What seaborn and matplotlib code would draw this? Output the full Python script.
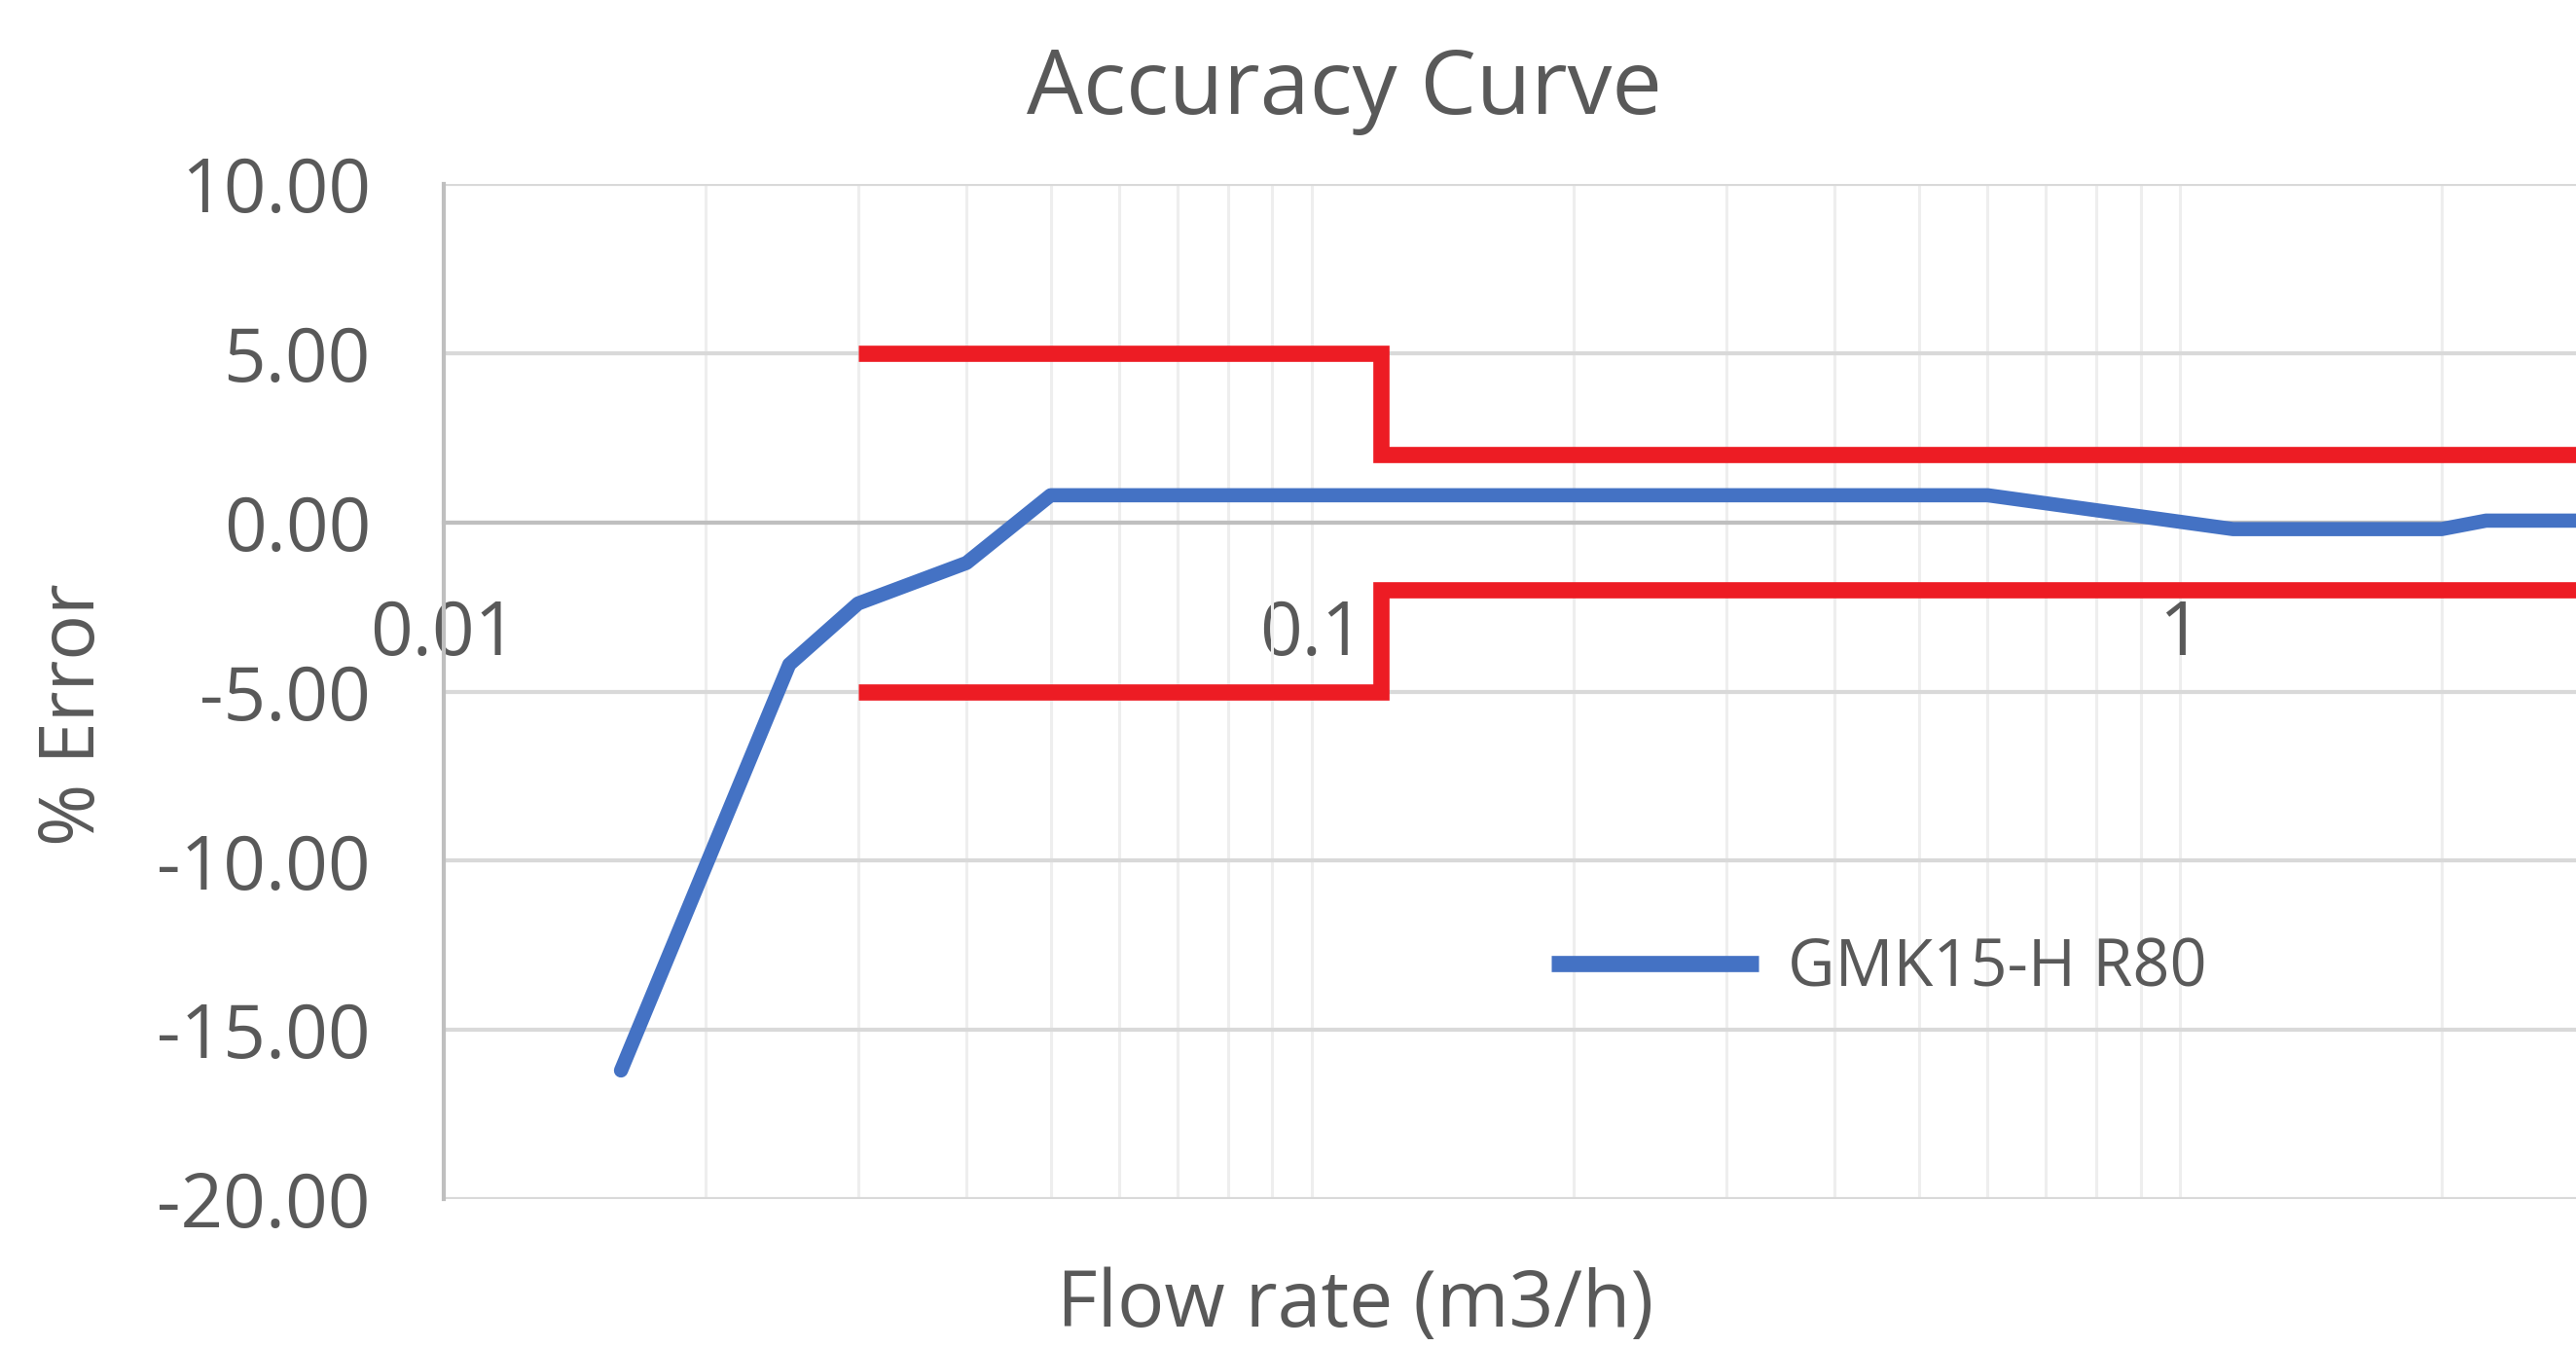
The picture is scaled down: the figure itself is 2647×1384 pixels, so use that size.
import matplotlib
matplotlib.use("Agg")
import matplotlib.pyplot as plt
import seaborn as sns
import pandas as pd
import numpy as np
from matplotlib.ticker import FixedLocator, NullFormatter, FixedFormatter

# ---- data ----
flow = [0.016, 0.025, 0.030, 0.040, 0.050, 0.10, 0.60, 1.15, 2.0, 2.25, 3.5]
error = [-16.2, -4.2, -2.4, -1.2, 0.8, 0.8, 0.8, -0.2, -0.2, 0.05, 0.05]
series_name = "GMK15-H R80"

upper_x = [0.03, 0.12, 0.12, 3.5]
upper_y = [5, 5, 2, 2]
lower_x = [0.03, 0.12, 0.12, 3.5]
lower_y = [-5, -5, -2, -2]

x_ticks = [0.01, 0.1, 1]
x_tick_labels = ["0.01", "0.1", "1"]
y_ticks = [10, 5, 0, -5, -10, -15, -20]
y_tick_labels = ["10.00", "5.00", "0.00", "-5.00", "-10.00", "-15.00", "-20.00"]

title = "Accuracy Curve"
xlabel = "Flow rate (m3/h)"
ylabel = "% Error"

# ---- style ----
sns.set_style("white")
plt.rcParams['font.family'] = ['Open Sans', 'DejaVu Sans']
TXT = "#595959"
BLUE = "#4472C4"
RED = "#ED1C24"

W, H, DPI = 2647, 1384, 100
fig = plt.figure(figsize=(W / DPI, H / DPI), dpi=DPI)
ax = fig.add_axes([456 / W, 1 - 1232 / H, 1 - 456 / W, (1232 - 189) / H])

df = pd.DataFrame({"flow": flow, "error": error, "series": series_name})
df_up = pd.DataFrame({"flow": upper_x, "error": upper_y})
df_lo = pd.DataFrame({"flow": lower_x, "error": lower_y})

sns.lineplot(data=df_up, x="flow", y="error", estimator=None, sort=False,
             color=RED, linewidth=12, ax=ax, legend=False, zorder=3,
             solid_joinstyle="miter", solid_capstyle="butt")
sns.lineplot(data=df_lo, x="flow", y="error", estimator=None, sort=False,
             color=RED, linewidth=12, ax=ax, legend=False, zorder=3,
             solid_joinstyle="miter", solid_capstyle="butt")
sns.lineplot(data=df, x="flow", y="error", hue="series", palette=[BLUE],
             estimator=None, sort=False, linewidth=10.5, ax=ax, zorder=4)

ax.set_xscale("log")
ax.set_xlim(0.01, 10 ** ((2647 - 2240) / 893))
ax.set_ylim(-20, 10)

# grid lines
minor_x = [m * 10.0 ** e for e in (-2, -1, 0) for m in range(1, 10)]
ax.xaxis.set_major_locator(FixedLocator(x_ticks))
ax.xaxis.set_major_formatter(FixedFormatter(x_tick_labels))
ax.xaxis.set_minor_locator(FixedLocator(minor_x))
ax.xaxis.set_minor_formatter(NullFormatter())
ax.yaxis.set_major_locator(FixedLocator(y_ticks))
ax.yaxis.set_major_formatter(FixedFormatter(y_tick_labels))

ax.grid(False)
ax.grid(True, which="minor", axis="x", color="#eeeeee", linewidth=2.2, zorder=0)
ax.grid(True, which="major", axis="x", color="#eeeeee", linewidth=2.2, zorder=0)
ax.grid(True, which="major", axis="y", color="#d9d9d9", linewidth=3, zorder=1)

for s in ("top", "right"):
    ax.spines[s].set_visible(False)
ax.spines["left"].set_color("#bfbfbf")
ax.spines["left"].set_linewidth(3)
ax.spines["bottom"].set_position(("data", 0))
ax.spines["bottom"].set_color("#bfbfbf")
ax.spines["bottom"].set_linewidth(3)
ax.spines["bottom"].set_zorder(2)

ax.tick_params(axis="x", which="both", length=0, pad=56, labelsize=55, labelcolor=TXT)
ax.tick_params(axis="y", which="both", length=0, pad=54, labelsize=55, labelcolor=TXT)
ax.set_xlabel("")
ax.set_ylabel("")

leg = ax.legend(loc="center left", bbox_to_anchor=(1594 / W, 1 - 996 / H),
                bbox_transform=fig.transFigure, frameon=False, fontsize=48,
                handlelength=3.2, handletextpad=0.45, borderpad=0, borderaxespad=0)
for t in leg.get_texts():
    t.set_color(TXT)
for l in leg.get_lines():
    l.set_linewidth(12)
    l.set_solid_capstyle("butt")

fig.text(1381 / W, 1 - 93 / H, title, ha="center", va="center", fontsize=66, color=TXT)
fig.text(1393 / W, 1 - 1342 / H, xlabel, ha="center", va="center", fontsize=58, color=TXT)
fig.text(76 / W, 1 - 734 / H, ylabel, ha="center", va="center", rotation=90,
         fontsize=56, color=TXT)

fig.savefig("out.png", dpi=DPI)
